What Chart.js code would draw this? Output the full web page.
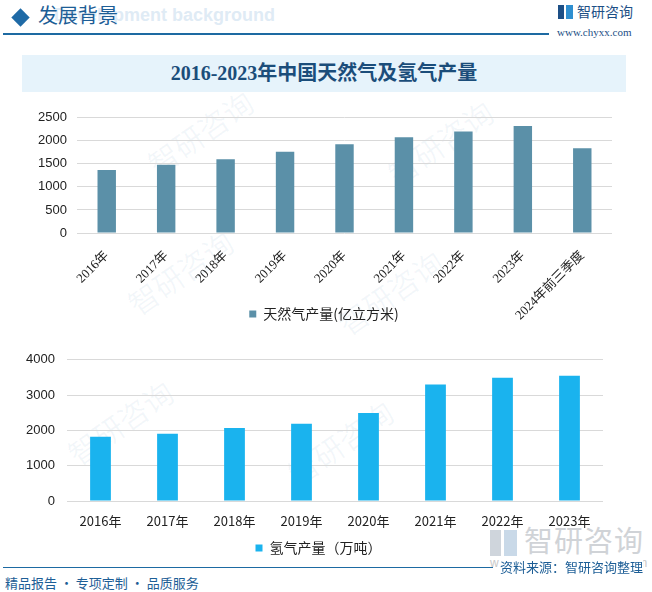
<!DOCTYPE html>
<html>
<head>
<meta charset="utf-8">
<script src="https://cdn.jsdelivr.net/npm/chart.js@4.4.1/dist/chart.umd.min.js"></script>
<style>
  html, body { margin: 0; padding: 0; background: #fff; }
  #page { position: relative; width: 652px; height: 592px; overflow: hidden; font-family: "Noto Sans CJK SC", sans-serif; }
  .abs { position: absolute; white-space: nowrap; }
  .wm { position: absolute; color: rgba(60, 120, 170, 0.06); font-size: 30px; transform: rotate(-35deg); white-space: nowrap; }
</style>
</head>
<body>
<div id="page">
  <!-- watermarks -->
  <div class="wm" style="left:140px;top:110px;">智研咨询</div>
  <div class="wm" style="left:380px;top:120px;">智研咨询</div>
  <div class="wm" style="left:120px;top:250px;">智研咨询</div>
  <div class="wm" style="left:330px;top:270px;">智研咨询</div>
  <div class="wm" style="left:280px;top:420px;">智研咨询</div>
  <div class="wm" style="left:60px;top:400px;">智研咨询</div>

  <!-- header -->
  <div class="abs" style="left:54px;top:5px;font:bold 18px 'Liberation Sans',sans-serif;color:#dfebf5;">Development background</div>
  <div class="abs" style="left:14px;top:11px;width:13px;height:13px;background:#1f6aa6;transform:rotate(45deg);"></div>
  <div class="abs" style="left:38px;top:0px;font-size:20px;color:#1d5e96;">发展背景</div>
  <div class="abs" style="left:3px;top:33px;width:546px;height:2px;background:#1d6aa2;"></div>
  <div class="abs" style="left:558px;top:5px;width:6px;height:14px;background:#1d4f86;"></div>
  <div class="abs" style="left:566px;top:5px;width:7px;height:14px;background:#2f8fd0;"></div>
  <div class="abs" style="left:577px;top:1px;font-size:14px;color:#1d4f86;">智研咨询</div>
  <div class="abs" style="left:557px;top:26px;font:11px 'Liberation Serif',serif;color:#1d4f86;">www.chyxx.com</div>

  <!-- title band -->
  <div class="abs" style="left:22px;top:55px;width:604px;height:37px;background:#e6f3fb;"></div>
  <div class="abs" style="left:22px;top:57px;width:604px;text-align:center;font:bold 20px 'Liberation Serif','Noto Sans CJK SC',serif;color:#1b4d7a;">2016-2023年中国天然气及氢气产量</div>

  <!-- footer watermark logo -->
  <div class="abs" style="left:490px;top:530px;width:11px;height:26px;background:#cfd5dc;"></div>
  <div class="abs" style="left:504px;top:530px;width:13px;height:26px;background:#c9d9e8;"></div>
  <div class="abs" style="left:524px;top:518px;font-size:29px;color:#d0d3d7;letter-spacing:1px;">智研咨询</div>
  <div class="abs" style="left:490px;top:556px;font:12px 'Liberation Sans',sans-serif;color:#c8c8c8;letter-spacing:6px;">www.chyxx.com</div>

  <div class="abs" style="left:0;top:100px;width:652px;height:265px;"><canvas id="gasChart"></canvas></div>
  <div class="abs" style="left:0;top:340px;width:652px;height:225px;"><canvas id="h2Chart"></canvas></div>

  <!-- footer -->
  <div class="abs" style="left:3px;top:567px;width:490px;height:1px;background:#1d6aa2;"></div>
  <div class="abs" style="left:500px;top:557px;font-size:13px;color:#1d5e96;background:#fff;">资料来源：智研咨询整理</div>
  <div class="abs" style="left:5px;top:573px;font-size:13px;color:#1d5e96;">精品报告 · 专项定制 · 品质服务</div>
</div>

<script>
const gasYears = ['2016年', '2017年', '2018年', '2019年', '2020年', '2021年', '2022年', '2023年', '2024年前三季度'];
const gasOutput = [1369, 1480, 1602, 1762, 1925, 2076, 2201, 2324, 1840];
const gasTicks = [0, 500, 1000, 1500, 2000, 2500];

const h2Years = ['2016年', '2017年', '2018年', '2019年', '2020年', '2021年', '2022年', '2023年'];
const h2Output = [1820, 1905, 2070, 2185, 2490, 3300, 3490, 3545];
const h2Ticks = [0, 1000, 2000, 3000, 4000];

Chart.defaults.animation = false;
Chart.defaults.color = '#222';

function fixedTicks(list) {
    return function (scale) {
        scale.ticks = list.map(v => ({ value: v }));
    };
}

// moves the legend box so it can sit beside the long rotated labels
const legendShift = {
    id: 'legendShift',
    afterLayout(chart, args, opts) {
        if (!chart.legend) return;
        if (opts.top != null) {
            const h = chart.legend.bottom - chart.legend.top;
            chart.legend.top = opts.top;
            chart.legend.bottom = opts.top + h;
        }
        if (opts.dx) {
            chart.legend.left += opts.dx;
            chart.legend.right += opts.dx;
        }
    }
};

// --- natural gas chart ---
new Chart(document.getElementById('gasChart'), {
    type: 'bar',
    data: {
        labels: gasYears,
        datasets: [{
            label: '天然气产量(亿立方米)',
            data: gasOutput,
            backgroundColor: '#5b90a8',
            barPercentage: 0.31,
            categoryPercentage: 1.0
        }]
    },
    options: {
        responsive: true,
        maintainAspectRatio: false,
        layout: { padding: { left: 0, right: 40, top: 16, bottom: 0 } },
        scales: {
            x: {
                grid: { display: false },
                border: { display: false },
                ticks: {
                    minRotation: 45, maxRotation: 45, autoSkip: false, padding: 7,
                    font: { family: "'Liberation Serif', 'Noto Sans CJK SC', serif", size: 13 },
                    color: '#222'
                },
                afterFit: s => { s.height = 100; }
            },
            y: {
                min: 0, max: 2500,
                afterBuildTicks: fixedTicks(gasTicks),
                grid: { color: '#d9d9d9', drawTicks: false },
                border: { display: false },
                ticks: {
                    padding: 10,
                    callback: v => String(v),
                    font: { family: "'Liberation Sans', sans-serif", size: 13 },
                    color: '#222'
                },
                afterFit: s => { s.width = 77; }
            }
        },
        plugins: {
            legendShift: { top: 199, dx: 18 },
            legend: {
                position: 'bottom',
                labels: {
                    boxWidth: 7, boxHeight: 7, padding: 8,
                    font: { family: "'Noto Sans CJK SC', sans-serif", size: 14 },
                    color: '#222'
                }
            },
            tooltip: { enabled: false }
        }
    },
    plugins: [legendShift]
});

// --- hydrogen chart ---
new Chart(document.getElementById('h2Chart'), {
    type: 'bar',
    data: {
        labels: h2Years,
        datasets: [{
            label: '氢气产量（万吨）',
            data: h2Output,
            backgroundColor: '#1ab3ee',
            barPercentage: 0.31,
            categoryPercentage: 1.0
        }]
    },
    options: {
        responsive: true,
        maintainAspectRatio: false,
        layout: { padding: { left: 0, right: 49, top: 17, bottom: 0 } },
        scales: {
            x: {
                grid: { display: false },
                border: { display: false },
                ticks: {
                    maxRotation: 0, autoSkip: false, padding: 4,
                    font: { family: "'Noto Sans CJK SC', sans-serif", size: 13 },
                    color: '#222'
                },
                afterFit: s => { s.height = 32; }
            },
            y: {
                min: 0, max: 4000,
                afterBuildTicks: fixedTicks(h2Ticks),
                grid: { color: '#d9d9d9', drawTicks: false },
                border: { display: false },
                ticks: {
                    padding: 12,
                    callback: v => String(v),
                    font: { family: "'Liberation Sans', sans-serif", size: 13 },
                    color: '#222'
                },
                afterFit: s => { s.width = 67; }
            }
        },
        plugins: {
            legendShift: { dx: 17 },
            legend: {
                position: 'bottom',
                labels: {
                    boxWidth: 7, boxHeight: 7, padding: 8,
                    font: { family: "'Noto Sans CJK SC', sans-serif", size: 14 },
                    color: '#222'
                }
            },
            tooltip: { enabled: false }
        }
    },
    plugins: [legendShift]
});
</script>
</body>
</html>
